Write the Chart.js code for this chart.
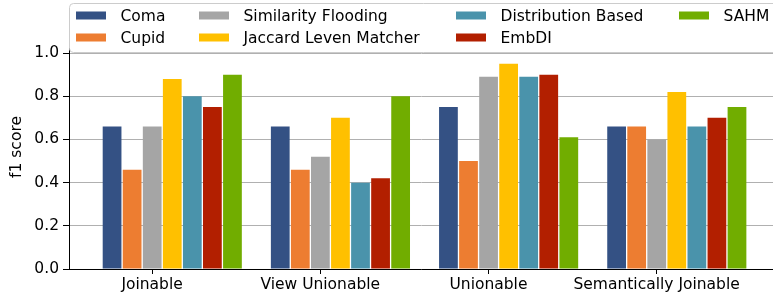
<!DOCTYPE html>
<html>
<head>
<meta charset="utf-8">
<script src="https://cdn.jsdelivr.net/npm/chart.js@4/dist/chart.umd.min.js"></script>
<style>
  html, body { margin: 0; padding: 0; background: #fff; }
  canvas { display: block; }
</style>
</head>
<body>
<canvas id="chart" width="773" height="298"></canvas>
<script>
// categories and tick labels
const categories = ['Joinable', 'View Unionable', 'Unionable', 'Semantically Joinable'];
const yTicks = [0, 0.2, 0.4, 0.6, 0.8, 1.0];

// f1 score per matcher, one value per category
const coma        = [0.66, 0.66, 0.75, 0.66];
const cupid       = [0.46, 0.46, 0.50, 0.66];
const simFlooding = [0.66, 0.52, 0.89, 0.60];
const jaccardLev  = [0.88, 0.70, 0.95, 0.82];
const distBased   = [0.80, 0.40, 0.89, 0.66];
const embdi       = [0.75, 0.42, 0.90, 0.70];
const sahm        = [0.90, 0.80, 0.61, 0.75];

const seriesNames  = ['Coma', 'Cupid', 'Similarity Flooding', 'Jaccard Leven Matcher', 'Distribution Based', 'EmbDI', 'SAHM'];
const seriesValues = [coma, cupid, simFlooding, jaccardLev, distBased, embdi, sahm];
const seriesColors = ['#345184', '#ED7D31', '#A5A5A5', '#FFC000', '#4A93AB', '#B21F00', '#71AD00'];

const FONT = "'DejaVu Sans', sans-serif";
const FS = 15.5;
Chart.defaults.font.family = FONT;
Chart.defaults.font.size = FS;
Chart.defaults.color = '#000';

// matplotlib style legend: 4 columns, filled column by column, drawn on top
const mplLegend = {
  id: 'mplLegend',
  afterDraw(chart) {
    const ctx = chart.ctx;
    ctx.save();
    // frame
    const x0 = 69.5, y0 = 3.5, x1 = 790, y1 = 52.5, r = 4;
    ctx.beginPath();
    ctx.moveTo(x0 + r, y0);
    ctx.lineTo(x1 - r, y0);
    ctx.arcTo(x1, y0, x1, y0 + r, r);
    ctx.lineTo(x1, y1 - r);
    ctx.arcTo(x1, y1, x1 - r, y1, r);
    ctx.lineTo(x0 + r, y1);
    ctx.arcTo(x0, y1, x0, y1 - r, r);
    ctx.lineTo(x0, y0 + r);
    ctx.arcTo(x0, y0, x0 + r, y0, r);
    ctx.closePath();
    ctx.fillStyle = 'rgba(255,255,255,0.8)';
    ctx.fill();
    ctx.strokeStyle = '#cccccc';
    ctx.lineWidth = 1;
    ctx.stroke();

    const colX = [76, 199, 456, 679];
    const rowY = [15.5, 37.5];
    ctx.font = FS + 'px ' + FONT;
    ctx.textBaseline = 'middle';
    chart.data.datasets.forEach((ds, i) => {
      const col = Math.floor(i / 2), row = i % 2;
      const x = colX[col], y = rowY[row];
      ctx.fillStyle = ds.backgroundColor;
      ctx.fillRect(x, y - 4, 30, 8);
      ctx.fillStyle = '#000';
      ctx.fillText(ds.label, x + 44.5, y + 1);
    });
    ctx.restore();
  }
};

const datasets = seriesNames.map((name, s) => ({
  label: name,
  data: seriesValues[s].map((v, i) => ({ x: i, y: v })),
  backgroundColor: seriesColors[s],
  borderWidth: 0
}));

new Chart(document.getElementById('chart'), {
  type: 'bar',
  data: { datasets },
  options: {
    responsive: false,
    animation: false,
    categoryPercentage: 0.835,
    barPercentage: 0.935,
    layout: { padding: { top: 25, left: 0, right: 0, bottom: 0 } },
    plugins: { legend: { display: false }, tooltip: { enabled: false } },
    scales: {
      x: {
        type: 'linear',
        offset: false,
        min: -0.614,
        max: 3.572,
        afterBuildTicks: (scale) => {
          // tick sits under the third bar of each group, like the original
          scale.ticks = categories.map((c, i) => ({ value: i - 0.12 }));
        },
        afterFit: (scale) => {
          scale.height = 29;
          scale.paddingLeft = 0;
          scale.paddingRight = 0;
        },
        ticks: {
          autoSkip: false,
          maxRotation: 0,
          padding: 2,
          callback: (v, idx) => categories[idx]
        },
        grid: { display: true, offset: false, drawOnChartArea: false, drawTicks: true, tickLength: 5, tickColor: '#000', color: '#000' },
        border: { display: true, color: '#000', width: 1 }
      },
      y: {
        min: 0,
        max: 1.13,
        afterBuildTicks: (scale) => {
          scale.ticks = yTicks.map(v => ({ value: v }));
        },
        afterFit: (scale) => {
          scale.width = 69;
          scale.paddingTop = 0;
          scale.paddingBottom = 0;
        },
        ticks: {
          padding: 4,
          callback: (v) => Number(v).toFixed(1)
        },
        title: { display: true, text: 'f1 score', padding: { top: 8, bottom: 0 } },
        grid: { color: '#b0b0b0', lineWidth: 1, tickColor: '#000', tickLength: 6 },
        border: { display: true, color: '#000', width: 1 }
      }
    }
  },
  plugins: [mplLegend]
});
</script>
</body>
</html>
